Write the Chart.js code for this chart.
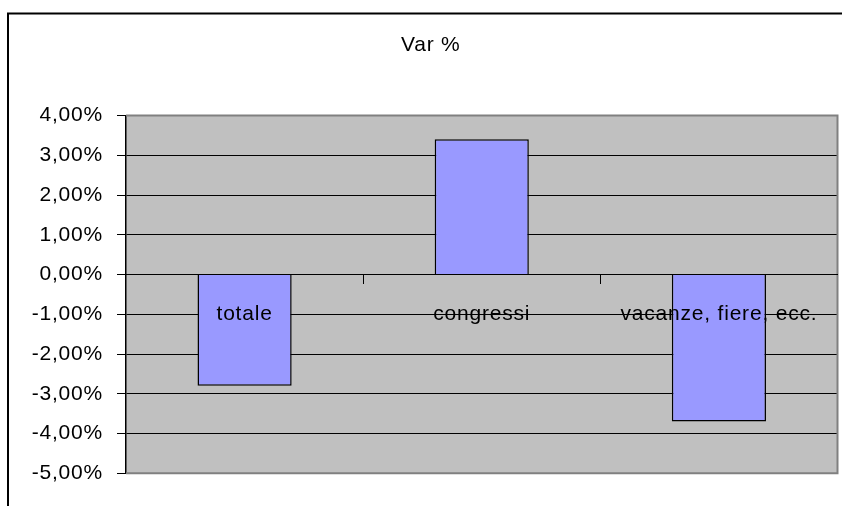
<!DOCTYPE html>
<html>
<head>
<meta charset="utf-8">
<script src="https://cdn.jsdelivr.net/npm/chart.js@4/dist/chart.umd.min.js"></script>
<style>
  html, body { margin: 0; padding: 0; background: #ffffff; }
  #wrap { width: 842px; height: 506px; position: relative; }
</style>
</head>
<body>
<div id="wrap"><canvas id="c" width="842" height="506"></canvas></div>
<script>
// ---- data ----
const categories = ['totale', 'congressi', 'vacanze, fiere, ecc.'];
const varPercent = [-2.8, 3.4, -3.7];
const yTickValues = [4, 3, 2, 1, 0, -1, -2, -3, -4, -5];
const chartTitle = 'Var %';

const FONT = "'Liberation Sans', Arial, sans-serif";
const FONT_SIZE = 21;
const SPACING = '0.8px';

const frameAndPlot = {
  id: 'frameAndPlot',
  beforeInit(chart) { chart.ctx.letterSpacing = SPACING; },
  beforeUpdate(chart) { chart.ctx.letterSpacing = SPACING; },
  beforeDraw(chart) {
    const { ctx, chartArea: a } = chart;
    ctx.letterSpacing = SPACING;
    ctx.save();
    ctx.fillStyle = '#ffffff';
    ctx.fillRect(0, 0, chart.width, chart.height);
    ctx.fillStyle = '#C0C0C0';
    ctx.fillRect(a.left, a.top, a.right - a.left, a.bottom - a.top);
    // outer chart frame
    ctx.strokeStyle = '#000000';
    ctx.lineWidth = 2;
    ctx.beginPath();
    ctx.moveTo(8, chart.height + 5);
    ctx.lineTo(8, 13.5);
    ctx.lineTo(chart.width + 5, 13.5);
    ctx.stroke();
    ctx.restore();
  },
  beforeDatasetsDraw(chart) {
    const { ctx, chartArea: a } = chart;
    ctx.save();
    ctx.strokeStyle = '#808080';
    ctx.lineWidth = 2;
    ctx.beginPath();
    ctx.moveTo(a.left, a.top);
    ctx.lineTo(a.right, a.top);
    ctx.lineTo(a.right, a.bottom);
    ctx.lineTo(a.left, a.bottom);
    ctx.stroke();
    ctx.restore();
  }
};

new Chart(document.getElementById('c'), {
  type: 'bar',
  data: {
    labels: categories,
    datasets: [{
      label: chartTitle,
      data: varPercent,
      backgroundColor: '#9999FF',
      borderColor: '#000000',
      borderWidth: 1.5,
      categoryPercentage: 1,
      barPercentage: 0.397
    }]
  },
  options: {
    responsive: false,
    animation: false,
    events: [],
    layout: { padding: { left: 24, right: 4.5, top: 0, bottom: 32.7 } },
    plugins: {
      legend: { display: false },
      tooltip: { enabled: false },
      title: {
        display: true,
        text: chartTitle,
        color: '#000000',
        font: { family: FONT, size: FONT_SIZE, weight: 'normal' },
        padding: { top: 33, bottom: 57.3 }
      }
    },
    scales: {
      x: {
        position: { y: 0 },
        z: 1,
        offset: true,
        grid: {
          offset: true,
          drawOnChartArea: false,
          drawTicks: true,
          tickLength: 9,
          color: '#000000',
          lineWidth: 1
        },
        border: { display: true, color: '#000000', width: 1, z: 1 },
        ticks: {
          z: 1,
          autoSkip: false,
          maxRotation: 0,
          padding: 18,
          color: '#000000',
          font: { family: FONT, size: FONT_SIZE }
        }
      },
      y: {
        min: -5,
        max: 4,
        afterFit(scale) { scale.width = 102; },
        afterBuildTicks(scale) { scale.ticks = yTickValues.map(v => ({ value: v })); },
        grid: {
          color: '#000000',
          tickColor: '#000000',
          lineWidth: 1,
          tickLength: 9,
          drawTicks: true
        },
        border: { display: true, color: '#000000', width: 1.5 },
        ticks: {
          padding: 14,
          color: '#000000',
          font: { family: FONT, size: FONT_SIZE },
          callback: (v) => v.toFixed(2).replace('.', ',') + '%'
        }
      }
    }
  },
  plugins: [frameAndPlot]
});
</script>
</body>
</html>
